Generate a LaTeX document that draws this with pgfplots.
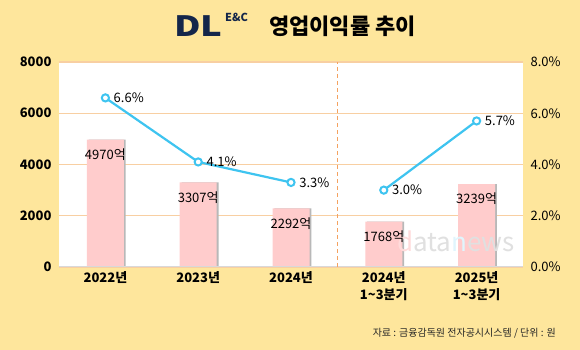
\documentclass[border=0pt]{standalone}
\usepackage{fontspec}
\setmainfont{Noto Sans CJK KR}
\usepackage{pgfplots}
\pgfplotsset{compat=1.18}
\definecolor{bg}{HTML}{FEE69C}
\definecolor{barc}{HTML}{FFCCCC}
\definecolor{linec}{HTML}{3EC4F0}
\definecolor{gridc}{HTML}{F8CFA2}
\definecolor{navy}{HTML}{14264A}
\definecolor{dashc}{HTML}{F4A260}
\pgfplotsset{/pgf/number format/assume math mode=true, /pgf/number format/1000 sep={}}
\begin{document}
\begin{tikzpicture}[x=1pt,y=1pt]
\useasboundingbox (0,0) rectangle (580,350);
\fill[bg] (0,0) rectangle (580,350);
% title
\node[anchor=west, font=\bfseries\fontsize{28}{28}\selectfont, text=navy, xscale=1.3, inner sep=0] at (174,324) {DL};
\node[anchor=west, font=\bfseries\fontsize{11}{11}\selectfont, text=navy, inner sep=0] at (225,333) {E\&C};
\node[anchor=west, font=\bfseries\fontsize{22}{22}\selectfont, text=black, inner sep=0] at (269,324) {영업이익률 추이};
% source
\node[anchor=east, font=\fontsize{10}{10}\selectfont, text=black!85, inner sep=0] at (556,17) {자료 : 금융감독원 전자공시시스템 / 단위 : 원};
\begin{axis}[
  at={(59pt,83pt)}, anchor=south west, width=464pt, height=205pt, scale only axis,
  xmin=-0.5, xmax=4.5, ymin=0, ymax=8000,
  xtick={0,1,2,3,4},
  xticklabels={2022년, 2023년, 2024년, {2024년\\1\textasciitilde3분기}, {2025년\\1\textasciitilde3분기}},
  xticklabel style={align=center, font=\bfseries\fontsize{13}{17}\selectfont, text=black, yshift=-1pt},
  ytick={0,2000,4000,6000,8000},
  yticklabel style={font=\bfseries\fontsize{13}{13}\selectfont, text=black, xshift=-4pt},
  scaled y ticks=false,
  axis line style={draw=none},
  major tick length=0pt,
  ymajorgrids, grid style={gridc, line width=1.2pt},
  axis background/.style={fill=white},
  clip=false,
]
\addplot[ybar, bar width=37pt, bar shift=1.8pt, fill=black!28, draw=none, forget plot]
  coordinates {(0,4970) (1,3307) (2,2292) (3,1768) (4,3239)};
\addplot[ybar, bar width=37pt, bar shift=0pt, fill=barc, draw=none,
  nodes near coords={\pgfmathprintnumber{\pgfplotspointmeta}억},
  every node near coord/.append style={anchor=center, yshift=-15pt, font=\fontsize{13}{13}\selectfont, text=black}]
  coordinates {(0,4970) (1,3307) (2,2292) (3,1768) (4,3239)};
\draw[gray!30, line width=1pt] (axis cs:-0.5,0) -- (axis cs:4.5,0);
\draw[dashc, line width=1pt, dash pattern=on 4pt off 3pt] (axis cs:2.5,0) -- (axis cs:2.5,8000);
\node[font=\fontsize{26}{26}\selectfont, inner sep=0] at (axis cs:3.78,1000) {{\color{red!14}d}{\color{black!12}ata}{\color{cyan!12}n}{\color{black!12}ews}};
\end{axis}
\begin{axis}[
  at={(59pt,83pt)}, anchor=south west, width=464pt, height=205pt, scale only axis,
  xmin=-0.5, xmax=4.5, ymin=0, ymax=8,
  axis x line=none, axis y line*=right,
  ytick={0,2,4,6,8},
  yticklabel={\pgfmathprintnumber[fixed,fixed zerofill,precision=1]{\tick}\%},
  yticklabel style={font=\fontsize{13}{13}\selectfont, text=black, xshift=4pt},
  axis line style={draw=none},
  major tick length=0pt,
  clip=false,
]
\addplot[linec, line width=2.2pt, mark=*, mark size=3.6pt,
  mark options={fill=white, draw=linec, line width=2pt},
  nodes near coords={\pgfmathprintnumber[fixed,fixed zerofill,precision=1]{\pgfplotspointmeta}\%},
  every node near coord/.append style={anchor=west, xshift=4pt, yshift=0pt, font=\fontsize{13}{13}\selectfont, text=black}]
  coordinates {(0,6.6) (1,4.1) (2,3.3)};
\addplot[linec, line width=2.2pt, mark=*, mark size=3.6pt,
  mark options={fill=white, draw=linec, line width=2pt},
  nodes near coords={\pgfmathprintnumber[fixed,fixed zerofill,precision=1]{\pgfplotspointmeta}\%},
  every node near coord/.append style={anchor=west, xshift=4pt, yshift=0pt, font=\fontsize{13}{13}\selectfont, text=black}]
  coordinates {(3,3.0) (4,5.7)};
\end{axis}
\end{tikzpicture}
\end{document}
